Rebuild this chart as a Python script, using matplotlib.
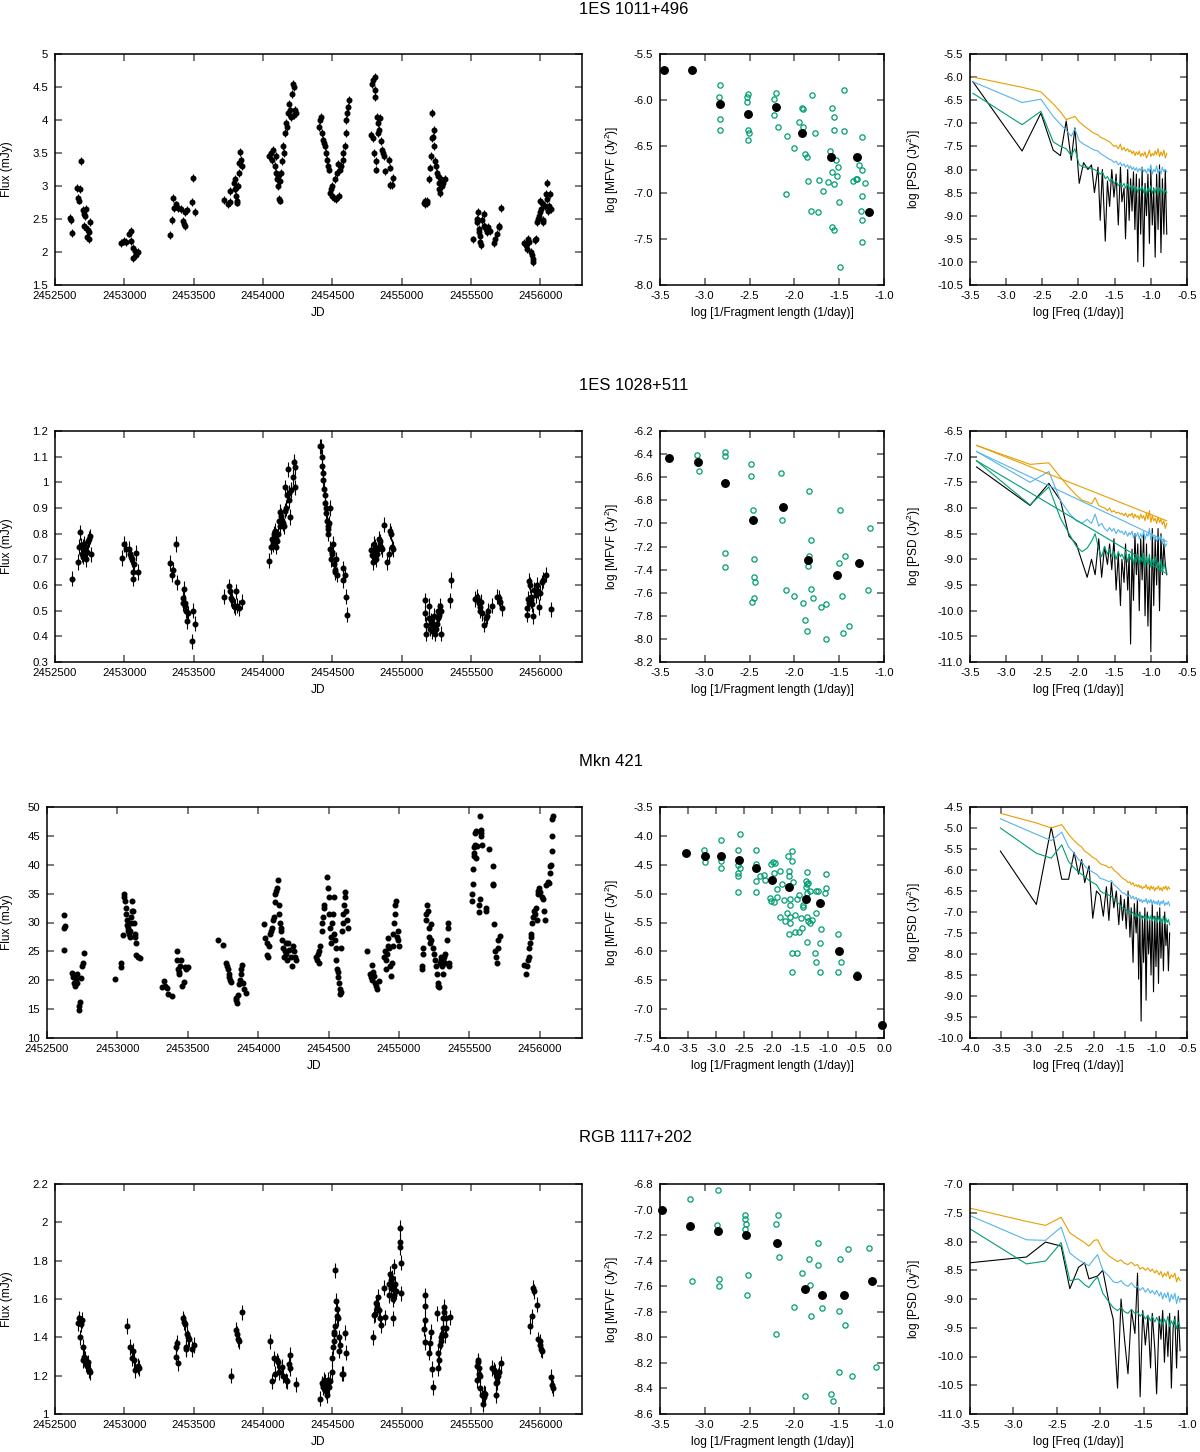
import numpy as np
import matplotlib
matplotlib.use('Agg')
import matplotlib.pyplot as plt
from matplotlib.ticker import FuncFormatter

plt.rcParams.update({
    'font.family': ['Liberation Sans', 'DejaVu Sans'],
    'font.size': 8,
    'mathtext.fontset': 'custom',
    'mathtext.rm': 'Liberation Sans',
    'mathtext.it': 'Liberation Sans:italic',
    'axes.linewidth': 1.1,
    'xtick.direction': 'in', 'ytick.direction': 'in',
    'xtick.top': True, 'ytick.right': True,
    'xtick.major.size': 5, 'ytick.major.size': 5,
    'xtick.major.width': 1.1, 'ytick.major.width': 1.1,
    'xtick.color': '#555555', 'ytick.color': '#555555',
    'xtick.labelcolor': 'black', 'ytick.labelcolor': 'black',
    'xtick.labelsize': 8.2, 'ytick.labelsize': 8.2,
    'xtick.major.pad': 4.5, 'ytick.major.pad': 5,
})

# ---------------- light curves (JD - 2450000, flux in mJy) ----------------
jd_1011 = [
    2610, 2615, 2625,
    2660, 2668, 2672, 2680, 2690, 2700, 2712, 2718, 2722, 2710, 2725, 2740, 2730, 2745, 2755, 2748,
    2975, 2995, 3010, 3030, 3045, 3050, 3060, 3065, 3075, 3085, 3095,
    3330, 3345, 3350, 3360, 3372, 3390, 3410, 3420, 3428, 3435, 3440, 3450, 3490, 3495, 3510,
    3715, 3750, 3760, 3765, 3790, 3795, 3800, 3805, 3810, 3815, 3820, 3825, 3830, 3835, 3840, 3845,
    4040, 4055, 4065, 4075, 4085, 4090, 4095, 4100, 4105, 4110, 4115, 4120, 4125, 4130, 4140,
    4145, 4150, 4160, 4165, 4170, 4180, 4190, 4195, 4200, 4210, 4215, 4220, 4225, 4230, 4240,
    4400, 4410, 4420, 4425, 4430, 4440, 4445, 4455, 4460, 4470, 4475, 4480, 4490, 4495, 4500, 4510,
    4520, 4525, 4535, 4540, 4550, 4555, 4565, 4575, 4580, 4590, 4595, 4600, 4605, 4612, 4620,
    4780, 4785, 4790, 4795, 4800, 4805, 4808, 4810, 4815, 4818, 4822, 4828, 4832, 4838, 4845,
    4850, 4855, 4862, 4870, 4878, 4905, 4912, 4918, 4930, 4935,
    5160, 5165, 5170, 5180, 5185, 5200, 5205, 5210, 5215, 5222, 5225, 5230, 5235, 5240, 5250,
    5255, 5262, 5268, 5272, 5278, 5285, 5292, 5300, 5310,
    5515, 5540, 5545, 5550, 5555, 5558, 5562, 5565, 5570, 5580, 5590, 5595, 5600, 5605, 5612,
    5620, 5635, 5665, 5675, 5690, 5700, 5705, 5715,
    5885, 5895, 5905, 5910, 5920, 5930, 5940, 5945, 5950, 5958, 5965, 5975, 5985, 5990, 5995,
    6000, 6005, 6012, 6018, 6022, 6030, 6038, 6045, 6050, 6058, 6065, 6072, 6080,
]
flux_1011 = [
    2.52, 2.48, 2.29,
    2.97, 2.82, 2.78, 2.95, 3.38, 2.63, 2.58, 2.55, 2.65, 2.40, 2.37, 2.33, 2.23, 2.20, 2.45, 2.30,
    2.13, 2.16, 2.15, 2.28, 2.32, 2.17, 2.06, 1.91, 2.02, 1.96, 2.00,
    2.26, 2.49, 2.82, 2.67, 2.72, 2.66, 2.65, 2.47, 2.43, 2.39, 2.60, 2.63, 2.76, 3.12, 2.60,
    2.79, 2.73, 2.92, 2.76, 3.05, 3.10, 2.95, 2.85, 2.78, 2.75, 3.00, 3.20, 3.35, 3.52, 3.40, 3.30,
    3.45, 3.50, 3.40, 3.55, 3.30, 3.45, 3.20, 3.10, 3.15, 3.00, 2.80, 2.78, 3.08, 3.20, 3.38,
    3.60, 3.50, 3.80, 3.95, 3.90, 4.10, 4.25, 4.15, 4.05, 4.40, 4.55, 4.50, 4.08, 4.15, 4.10,
    3.90, 4.00, 4.05, 3.80, 3.70, 3.65, 3.60, 3.50, 3.40, 3.30, 3.25, 2.90, 2.95, 3.00, 2.85, 2.82,
    3.10, 2.80, 3.20, 3.33, 2.85, 3.25, 3.30, 3.40, 3.50, 3.60, 3.80, 4.00, 4.10, 4.20, 4.30,
    3.77, 4.55, 3.72, 4.60, 3.50, 4.65, 4.45, 4.35, 3.38, 3.25, 4.05, 3.95, 3.80, 3.85, 4.03,
    3.68, 3.55, 3.50, 3.45, 3.22, 3.40, 3.28, 3.02, 3.02, 3.12,
    2.75, 2.72, 2.77, 2.78, 2.74, 3.10, 3.28, 3.45, 3.72, 4.10, 3.75, 3.85, 3.60, 3.38, 3.30,
    3.20, 3.15, 3.05, 2.95, 2.90, 3.10, 3.00, 3.05, 3.10,
    2.19, 2.50, 2.45, 2.60, 2.35, 2.30, 2.25, 2.15, 2.10, 2.48, 2.58, 2.40, 2.38, 2.35, 2.30,
    2.38, 2.32, 2.13, 2.20, 2.28, 2.40, 2.38, 2.66,
    2.13, 2.10, 2.05, 2.20, 2.15, 2.00, 1.95, 1.90, 1.85, 2.18, 2.20, 2.45, 2.50, 2.55, 2.78,
    2.60, 2.65, 2.75, 2.48, 2.45, 2.70, 2.88, 3.05, 2.80, 2.62, 2.70, 2.88, 2.65,
]
err_1011 = 0.06

jd_1028 = [
    2622, 2665, 2675, 2680, 2688, 2695, 2700, 2705, 2712, 2718, 2722, 2728, 2740, 2745, 2752, 2760,
    2980, 2995, 3015, 3030, 3040, 3048, 3055, 3060, 3065, 3070, 3085, 3100,
    3330, 3345, 3350, 3372, 3380, 3420, 3425, 3430, 3435, 3440, 3445, 3450, 3460, 3490, 3495, 3510,
    3715, 3755, 3762, 3770, 3778, 3790, 3800, 3805, 3815, 3825, 3845,
    4045, 4060, 4065, 4070, 4075, 4080, 4085, 4090, 4095, 4100, 4108, 4115, 4120, 4125, 4130, 4140,
    4145, 4150, 4155, 4160, 4165, 4172, 4178, 4185, 4190, 4195, 4205, 4215, 4222, 4228, 4232,
    4410, 4420, 4425, 4428, 4432, 4436, 4440, 4445, 4448, 4452, 4455, 4460, 4465, 4468, 4472, 4476,
    4480, 4485, 4490, 4495, 4500, 4505, 4512, 4518, 4522, 4528, 4535, 4575, 4580, 4590, 4600, 4605,
    4780, 4785, 4790, 4800, 4805, 4810, 4815, 4822, 4830, 4838, 4845, 4850, 4860, 4870, 4895, 4905,
    4912, 4925, 4932, 4938,
    5165, 5170, 5172, 5175, 5195, 5200, 5205, 5212, 5218, 5225, 5230, 5235, 5240, 5248, 5255, 5260,
    5265, 5270, 5275, 5280, 5285, 5350, 5355,
    5530, 5540, 5548, 5555, 5562, 5568, 5575, 5582, 5595, 5605, 5612, 5620, 5650, 5690, 5700, 5708,
    5720,
    5900, 5905, 5910, 5915, 5920, 5925, 5930, 5935, 5940, 5945, 5955, 5965, 5975, 5985, 5992, 6000,
    6010, 6020, 6040, 6080,
]
flux_1028 = [
    0.625, 0.69, 0.75, 0.805, 0.755, 0.72, 0.71, 0.75, 0.76, 0.74, 0.70, 0.73, 0.77, 0.78, 0.79, 0.72,
    0.705, 0.76, 0.74, 0.74, 0.72, 0.71, 0.70, 0.65, 0.625, 0.68, 0.725, 0.65,
    0.685, 0.64, 0.66, 0.76, 0.61, 0.53, 0.55, 0.585, 0.52, 0.53, 0.50, 0.46, 0.49, 0.38, 0.50, 0.45,
    0.555, 0.595, 0.575, 0.55, 0.54, 0.52, 0.515, 0.575, 0.52, 0.51, 0.535,
    0.695, 0.75, 0.78, 0.77, 0.76, 0.80, 0.81, 0.78, 0.75, 0.77, 0.80, 0.85, 0.83, 0.885, 0.87, 0.85,
    0.84, 0.83, 0.98, 0.89, 0.90, 0.95, 1.05, 0.96, 0.93, 0.865, 0.97, 1.02, 1.08, 1.06, 0.98,
    1.14, 1.14, 1.10, 1.065, 1.035, 1.01, 0.975, 0.95, 0.92, 0.90, 0.88, 0.85, 0.83, 0.82, 0.80, 0.84,
    0.90, 0.74, 0.70, 0.72, 0.73, 0.76, 0.68, 0.66, 0.65, 0.70, 0.64, 0.665, 0.62, 0.64, 0.555, 0.485,
    0.735, 0.715, 0.69, 0.76, 0.75, 0.73, 0.70, 0.72, 0.74, 0.78, 0.77, 0.75, 0.74, 0.835, 0.69, 0.72,
    0.81, 0.80, 0.75, 0.74,
    0.54, 0.49, 0.445, 0.41, 0.52, 0.47, 0.43, 0.46, 0.42, 0.45, 0.44, 0.48, 0.41, 0.43, 0.45, 0.47,
    0.50, 0.485, 0.52, 0.41, 0.50, 0.54, 0.62,
    0.545, 0.555, 0.54, 0.53, 0.515, 0.50, 0.535, 0.49, 0.445, 0.47, 0.48, 0.50, 0.52, 0.555, 0.55, 0.535,
    0.51,
    0.485, 0.51, 0.545, 0.53, 0.615, 0.60, 0.555, 0.54, 0.525, 0.48, 0.58, 0.56, 0.60, 0.575, 0.515, 0.57,
    0.61, 0.62, 0.64, 0.505,
]
err_1028 = 0.03

jd_421 = [
    2618, 2620, 2622, 2625, 2680, 2688, 2695, 2700, 2705, 2712, 2716, 2725, 2728, 2732, 2745, 2752, 2756, 2765,
    2980, 3025, 3028, 3040, 3048, 3050, 3052, 3058, 3062, 3066, 3070, 3074, 3078, 3082,
    3086, 3090, 3094, 3098, 3102, 3106, 3112, 3118, 3124, 3128, 3132, 3130, 3145, 3160,
    3320, 3330, 3340, 3350, 3360, 3385, 3420, 3425, 3430, 3435, 3440, 3445, 3455, 3460, 3470, 3480, 3490, 3500,
    3715, 3750, 3770, 3775, 3785, 3790, 3795, 3800, 3810, 3840, 3845, 3850, 3855, 3865, 3870, 3875,
    3880, 3885, 3890, 3900, 3910,
    4040, 4050, 4060, 4065, 4070, 4078, 4085, 4092, 4098, 4105, 4112, 4118, 4122, 4128, 4135, 4140, 4145, 4150,
    4155, 4160, 4165, 4170, 4175, 4180, 4188, 4195, 4200, 4208, 4215, 4222, 4230, 4240, 4248, 4255, 4262, 4270,
    4410, 4418, 4425, 4430, 4435, 4442, 4450, 4455, 4460, 4465, 4470, 4490, 4495, 4500, 4505, 4510, 4515, 4520,
    4525, 4530, 4535, 4540, 4545, 4550, 4555, 4560, 4565, 4570, 4575, 4578, 4582, 4585, 4590, 4595, 4600, 4605,
    4610, 4615, 4620, 4625, 4630, 4635,
    4775, 4795, 4800, 4805, 4810, 4815, 4820, 4830, 4838, 4845, 4860, 4895, 4900, 4905, 4910, 4915,
    4920, 4925, 4930, 4935, 4945, 4950, 4955, 4960, 4965, 4970, 4975, 4978, 4985, 4990, 4995, 5000,
    5160, 5162, 5168, 5172, 5190, 5195, 5200, 5205, 5210, 5215, 5220, 5225, 5228, 5240, 5250, 5258, 5265, 5270,
    5275, 5280, 5285, 5290, 5295, 5300, 5305, 5310, 5315, 5320, 5325, 5330, 5340, 5345, 5348, 5352, 5358,
    5520, 5522, 5524, 5527, 5530, 5533, 5536, 5540, 5543, 5546, 5550, 5555, 5565, 5568, 5572, 5578, 5580,
    5583, 5586, 5590, 5615, 5620, 5640, 5665, 5668, 5670, 5675, 5685, 5690, 5693, 5700, 5705, 5715,
    5890, 5900, 5910, 5915, 5920, 5925, 5930, 5935, 5940, 5948, 5955, 5962, 5968, 5975, 5980, 5985, 5990,
    5995, 6005, 6015, 6025, 6030, 6035, 6045, 6055, 6065, 6070, 6075, 6078, 6090, 6085, 6088, 6092,
]
flux_421 = [
    25.2, 31.3, 29.0, 29.4, 21.3, 20.5, 19.5, 19.0, 20.2, 19.5, 21.0, 14.8, 15.5, 16.2, 20.4, 22.5, 23.0, 24.8,
    20.2, 22.3, 23.0, 27.9, 35.0, 34.5, 33.8, 32.5, 31.5, 30.5, 29.5, 29.0, 28.5, 28.0,
    27.5, 28.5, 30.0, 31.0, 32.0, 33.7, 32.0, 30.0, 28.0, 27.5, 26.5, 24.3, 24.0, 23.9,
    18.9, 19.8, 19.0, 18.6, 17.7, 17.2, 25.0, 23.5, 22.0, 21.5, 21.0, 22.5, 23.5, 19.0, 19.7, 22.3, 22.0, 22.3,
    27.0, 26.1, 23.0, 22.5, 22.0, 21.0, 20.5, 20.0, 19.7, 17.0, 16.5, 16.0, 17.5, 19.3, 20.0, 21.0,
    22.0, 22.7, 19.5, 18.5, 17.8,
    29.7, 27.3, 26.5, 24.3, 24.0, 26.0, 28.0, 28.5, 29.0, 30.5, 31.0, 33.5, 35.0, 35.5, 36.0, 37.3, 33.0, 31.5,
    30.0, 28.5, 29.0, 27.0, 25.5, 24.0, 25.0, 26.5, 24.5, 23.5, 26.5, 25.3, 24.0, 22.5, 26.0, 25.0, 24.0, 23.5,
    24.0, 23.5, 24.5, 25.0, 23.0, 26.0, 28.5, 30.0, 31.0, 32.5, 33.0, 37.8, 36.0, 34.5, 31.5, 29.0, 27.5, 26.5,
    30.0, 31.5, 34.5, 28.0, 27.0, 25.5, 23.5, 22.0, 21.5, 20.5, 19.5, 18.5, 17.7, 18.0, 25.5, 28.5, 30.0, 31.5,
    33.0, 34.5, 35.3, 32.0, 30.5, 29.0,
    25.0, 21.0, 20.5, 20.0, 22.7, 21.5, 20.7, 19.5, 19.0, 18.5, 19.8, 24.0, 25.0, 23.5, 22.0, 24.5,
    26.0, 27.3, 25.5, 22.5, 20.7, 23.0, 26.0, 28.0, 30.0, 31.5, 33.0, 33.8, 27.5, 28.5, 27.0, 26.0,
    22.5, 22.0, 24.5, 25.5, 30.5, 31.5, 33.0, 32.0, 29.0, 27.5, 26.5, 27.0, 29.7, 25.5, 24.5, 23.5, 22.5, 21.0,
    19.5, 19.0, 18.8, 23.0, 24.0, 23.5, 22.5, 21.0, 23.5, 24.0, 23.0, 24.5, 27.0, 29.0, 30.0, 23.0, 22.5,
    33.7, 35.0, 36.6, 39.2, 41.5, 42.0, 43.0, 43.5, 45.5, 45.8, 41.2, 43.2, 33.0, 31.8, 34.0, 48.5, 45.5,
    45.0, 46.0, 43.5, 32.5, 32.0, 42.8, 39.7, 36.7, 36.5, 29.8, 25.0, 24.0, 23.0, 25.5, 27.0, 27.7,
    22.7, 21.0, 22.5, 23.5, 24.0, 25.5, 26.5, 27.5, 28.0, 30.0, 31.0, 32.0, 31.5, 32.5, 30.5, 35.0, 35.5,
    36.0, 35.2, 34.5, 34.0, 32.0, 30.5, 36.5, 37.0, 36.8, 38.5, 39.7, 40.0, 42.4, 45.0, 48.0, 48.5,
]
err_421 = 0.3

jd_1117 = [
    2665, 2672, 2680, 2690, 2695, 2700, 2705, 2710, 2715, 2720, 2730, 2738, 2745, 2755,
    3020, 3040, 3055, 3065, 3070, 3075, 3100, 3108,
    3370, 3375, 3378, 3385, 3420, 3430, 3440, 3445, 3448, 3452, 3458, 3465, 3490, 3502,
    3770, 3805, 3810, 3818, 3825, 3845,
    4050, 4065, 4080, 4088, 4100, 4110, 4115, 4135, 4145, 4165, 4170, 4185, 4192, 4198, 4235,
    4410, 4425, 4430, 4435, 4440, 4445, 4450, 4455, 4458, 4462, 4468, 4472, 4478, 4485, 4495, 4500, 4505,
    4510, 4512, 4515, 4518, 4520, 4525, 4530, 4535, 4540, 4545, 4550, 4555, 4570, 4580, 4590, 4595,
    4795, 4800, 4810, 4818, 4825, 4830, 4838, 4842, 4848, 4870, 4880, 4905, 4910, 4915, 4920,
    4925, 4930, 4935, 4938, 4940, 4945, 4948, 4952, 4958, 4985, 4988, 4990, 4995, 4992,
    5165, 5170, 5168, 5163, 5166, 5200, 5205, 5210, 5215, 5228, 5255, 5260, 5265,
    5270, 5275, 5280, 5285, 5290, 5295, 5300, 5305, 5308, 5312, 5318, 5322, 5345,
    5540, 5542, 5548, 5552, 5555, 5558, 5562, 5565, 5580, 5585, 5590,
    5595, 5600, 5650, 5665, 5672, 5678, 5682, 5688, 5695, 5700, 5715,
    5925, 5940, 5948, 5955, 5975, 5985, 5995, 6000, 6005, 6012, 6075, 6085, 6092,
]
flux_1117 = [
    1.475, 1.50, 1.40, 1.47, 1.49, 1.35, 1.28, 1.30, 1.29, 1.26, 1.25, 1.27, 1.23, 1.22,
    1.46, 1.35, 1.29, 1.33, 1.28, 1.23, 1.25, 1.24,
    1.30, 1.35, 1.37, 1.265, 1.50, 1.48, 1.47, 1.35, 1.34, 1.42, 1.40, 1.39, 1.34, 1.36,
    1.20, 1.44, 1.42, 1.39, 1.38, 1.53,
    1.38, 1.17, 1.29, 1.21, 1.28, 1.27, 1.22, 1.245, 1.20, 1.175, 1.17, 1.26, 1.24, 1.31, 1.155,
    1.08, 1.16, 1.15, 1.14, 1.18, 1.17, 1.13, 1.12, 1.10, 1.15, 1.18, 1.16, 1.14, 1.17, 1.22, 1.29, 1.35,
    1.43, 1.38, 1.42, 1.46, 1.75, 1.59, 1.51, 1.55, 1.50, 1.33, 1.40, 1.36, 1.21, 1.21, 1.425, 1.32,
    1.40, 1.515, 1.52, 1.58, 1.56, 1.61, 1.545, 1.50, 1.465, 1.66, 1.505, 1.62, 1.68, 1.73, 1.66,
    1.70, 1.71, 1.65, 1.60, 1.50, 1.62, 1.77, 1.68, 1.64, 1.87, 1.97, 1.90, 1.79, 1.63,
    1.62, 1.565, 1.49, 1.445, 1.375, 1.32, 1.37, 1.43, 1.235, 1.14, 1.525, 1.24, 1.32,
    1.28, 1.36, 1.38, 1.40, 1.42, 1.45, 1.50, 1.53, 1.56, 1.41, 1.50, 1.45, 1.505,
    1.25, 1.175, 1.27, 1.28, 1.24, 1.21, 1.20, 1.135, 1.10, 1.05, 1.09,
    1.11, 1.105, 1.24, 1.23, 1.22, 1.10, 1.16, 1.165, 1.20, 1.22, 1.265,
    1.46, 1.51, 1.66, 1.64, 1.57, 1.39, 1.38, 1.36, 1.34, 1.33, 1.195, 1.15, 1.135,
]
err_1117 = 0.04

# ---------------- MFVF (log 1/fragment length, log MFVF) ----------------
mf_bx_1011 = [-3.46, -3.14, -2.83, -2.52, -2.21, -1.91, -1.59, -1.30, -1.17]
mf_by_1011 = [-5.67, -5.67, -6.04, -6.15, -6.07, -6.35, -6.61, -6.62, -7.21]
mf_gx_1011 = [-2.83, -2.84, -2.83, -2.83, -2.52, -2.53, -2.53, -2.52, -2.51, -2.52, -2.21, -2.23, -2.23,
              -2.18, -2.08, -2.09, -2.00, -1.95, -1.92, -1.90, -1.90, -1.88, -1.86, -1.85, -1.82, -1.80,
              -1.77, -1.74, -1.72, -1.68, -1.62, -1.60, -1.58, -1.56, -1.56, -1.58, -1.56, -1.54, -1.53,
              -1.51, -1.58, -1.56, -1.50, -1.49, -1.45, -1.45, -1.35, -1.31, -1.30, -1.28, -1.26, -1.25,
              -1.24, -1.24, -1.24, -1.21, -1.24]
mf_gy_1011 = [-5.84, -5.96, -6.20, -6.32, -5.93, -5.96, -6.02, -6.32, -6.36, -6.43, -5.92, -5.99, -6.16,
              -6.29, -6.39, -7.01, -6.52, -6.24, -6.08, -6.10, -6.29, -6.58, -6.62, -6.87, -7.20, -5.94,
              -6.35, -7.21, -6.86, -6.98, -6.89, -6.55, -6.08, -6.18, -6.32, -6.78, -6.91, -6.65, -6.82,
              -6.72, -7.37, -7.40, -7.10, -7.81, -5.89, -6.33, -6.87, -6.85, -6.85, -6.70, -7.20, -7.30,
              -6.40, -6.76, -7.04, -6.90, -7.54]

mf_bx_1028 = [-3.40, -3.08, -2.77, -2.46, -2.13, -1.85, -1.53, -1.28]
mf_by_1028 = [-6.43, -6.47, -6.65, -6.97, -6.86, -7.32, -7.45, -7.34]
mf_gx_1028 = [-3.09, -3.07, -2.78, -2.77, -2.77, -2.77, -2.48, -2.48, -2.46, -2.45, -2.45, -2.44, -2.45,
              -2.47, -2.15, -2.14, -2.09, -2.00, -1.90, -1.88, -1.86, -1.84, -1.84, -1.85, -1.81, -1.81,
              -1.79, -1.70, -1.65, -1.65, -1.50, -1.49, -1.47, -1.44, -1.46, -1.39, -1.18, -1.16]
mf_gy_1028 = [-6.41, -6.55, -6.42, -6.38, -7.26, -7.38, -6.49, -6.59, -6.88, -7.31, -7.46, -7.51, -7.65,
              -7.68, -6.56, -6.97, -7.58, -7.63, -7.69, -7.84, -7.93, -6.72, -7.28, -7.37, -7.14, -7.57,
              -7.65, -7.72, -7.70, -8.00, -7.34, -6.88, -7.63, -7.28, -7.95, -7.89, -7.58, -7.04]

mf_bx_421 = [-3.53, -3.20, -2.91, -2.59, -2.28, -2.00, -1.69, -1.39, -1.14, -0.81, -0.48, -0.04]
mf_by_421 = [-4.30, -4.35, -4.34, -4.41, -4.55, -4.76, -4.88, -5.10, -5.16, -5.99, -6.42, -7.28]
mf_gx_421 = [-3.21, -3.20, -2.91, -2.91, -2.91, -2.58, -2.61, -2.60, -2.58, -2.61, -2.60, -2.61, -2.28,
             -2.28, -2.28, -2.29, -2.22, -2.14, -2.12, -2.02, -1.98, -1.95, -1.97, -1.91, -2.04, -2.01,
             -1.97, -1.91, -1.85, -1.83, -1.85, -1.78, -1.76, -1.74, -1.71, -1.70, -1.70, -1.68, -1.67,
             -1.68, -1.68, -1.69, -1.65, -1.64, -1.63, -1.59, -1.59, -1.65, -1.55, -1.65, -1.55, -1.52,
             -1.52, -1.48, -1.46, -1.45, -1.44, -1.38, -1.40, -1.39, -1.37, -1.35, -1.37, -1.33, -1.38,
             -1.35, -1.33, -1.29, -1.37, -1.24, -1.22, -1.21, -1.21, -1.17, -1.13, -1.14, -1.14, -1.03,
             -1.03, -1.06, -0.83, -0.77, -0.83, -0.48, -0.48]
mf_gy_421 = [-4.25, -4.46, -4.07, -4.44, -4.56, -3.96, -4.24, -4.51, -4.55, -4.65, -4.70, -4.97, -4.24,
             -4.49, -4.79, -4.98, -4.69, -4.68, -4.76, -4.49, -4.46, -4.47, -4.65, -4.92, -5.08, -5.13,
             -5.14, -5.05, -4.61, -4.84, -5.41, -5.11, -5.47, -5.33, -4.35, -4.60, -4.69, -5.10, -5.20,
             -5.41, -5.51, -5.70, -4.27, -4.43, -4.80, -5.37, -5.67, -6.03, -6.02, -6.35, -5.09, -5.03,
             -5.67, -5.43, -5.60, -5.20, -5.24, -4.62, -4.79, -4.88, -4.84, -4.81, -4.99, -4.96, -5.41,
             -5.47, -5.51, -5.45, -5.83, -6.02, -6.19, -5.33, -4.95, -4.95, -5.62, -5.85, -6.35, -4.66,
             -4.90, -4.99, -5.70, -6.18, -6.35, -6.40, -6.45]

mf_bx_1117 = [-3.48, -3.16, -2.85, -2.54, -2.19, -1.88, -1.69, -1.45, -1.13]
mf_by_1117 = [-7.00, -7.13, -7.17, -7.20, -7.26, -7.62, -7.67, -7.67, -7.56]
mf_gx_1117 = [-3.17, -3.14, -2.85, -2.86, -2.84, -2.84, -2.55, -2.55, -2.54, -2.55, -2.52, -2.53, -2.21,
              -2.18, -2.17, -2.21, -2.00, -1.92, -1.84, -1.83, -1.82, -1.88, -1.74, -1.74, -1.69, -1.59,
              -1.57, -1.50, -1.49, -1.50, -1.43, -1.40, -1.36, -1.17, -1.09]
mf_gy_1117 = [-6.92, -7.56, -6.85, -7.12, -7.54, -7.60, -7.04, -7.07, -7.11, -7.15, -7.51, -7.67, -7.11,
              -7.04, -7.37, -7.97, -7.76, -7.50, -7.39, -7.59, -7.83, -8.46, -7.26, -7.43, -7.77, -8.44,
              -8.50, -7.79, -7.39, -8.27, -7.90, -7.31, -8.30, -7.30, -8.23]

# ---------------- PSD (log freq, log PSD) ----------------
psd_f_1011 = [-3.46, -2.78, -2.52, -2.35, -2.25, -2.17, -2.10, -2.05, -1.99, -1.93, -1.87, -1.82, -1.78,
              -1.73, -1.70, -1.67, -1.63, -1.60, -1.57, -1.54, -1.51, -1.48, -1.45, -1.42, -1.40, -1.37,
              -1.35, -1.32, -1.30, -1.28, -1.26, -1.24, -1.22, -1.20, -1.18, -1.16, -1.14, -1.12, -1.10,
              -1.08, -1.06, -1.04, -1.02, -1.00, -0.98, -0.96, -0.94, -0.92, -0.90, -0.88, -0.86, -0.84,
              -0.82, -0.80, -0.78]
psd_k_1011 = [-6.10, -7.60, -6.78, -7.58, -7.70, -6.95, -7.80, -7.10, -8.30, -7.85, -8.00, -7.90, -8.50,
              -7.95, -9.10, -8.00, -9.55, -8.25, -8.80, -8.00, -8.60, -8.10, -9.20, -7.95, -8.70, -8.40,
              -9.50, -8.00, -9.10, -8.20, -8.90, -8.05, -9.30, -8.10, -10.00, -8.20, -9.40, -7.95, -10.10,
              -8.30, -9.00, -8.10, -9.60, -8.00, -9.20, -8.40, -9.90, -8.10, -9.30, -7.90, -9.80, -8.20,
              -9.40, -8.00, -9.40]
psd_o_1011 = [-6.00, -6.22, -6.32, -6.58, -6.75, -6.92, -6.88, -6.85, -6.97, -7.05, -7.12, -7.18, -7.22,
              -7.25, -7.30, -7.32, -7.35, -7.38, -7.40, -7.45, -7.50, -7.48, -7.55, -7.45, -7.58, -7.52,
              -7.60, -7.55, -7.62, -7.58, -7.66, -7.60, -7.70, -7.62, -7.68, -7.60, -7.72, -7.65, -7.70,
              -7.62, -7.75, -7.68, -7.58, -7.72, -7.65, -7.70, -7.60, -7.68, -7.55, -7.72, -7.62, -7.70,
              -7.58, -7.75, -7.65]
psd_b_1011 = [-6.10, -6.55, -6.48, -6.85, -7.02, -7.15, -7.28, -7.12, -7.38, -7.45, -7.50, -7.55, -7.58,
              -7.60, -7.65, -7.68, -7.72, -7.75, -7.78, -7.80, -7.85, -7.82, -7.90, -7.85, -7.92, -7.88,
              -7.95, -7.90, -7.98, -7.92, -8.00, -7.95, -8.02, -7.96, -8.05, -7.98, -8.02, -7.95, -8.05,
              -8.00, -8.08, -7.98, -8.05, -7.90, -8.10, -8.00, -8.05, -7.92, -8.08, -8.00, -8.10, -7.95,
              -8.05, -8.00, -8.05]
psd_g_1011 = [-6.35, -7.03, -6.74, -7.40, -7.50, -7.55, -7.70, -7.55, -7.90, -7.95, -7.95, -7.98, -8.00,
              -8.05, -8.10, -8.05, -8.20, -8.15, -8.25, -8.20, -8.30, -8.25, -8.35, -8.30, -8.38, -8.30,
              -8.40, -8.32, -8.42, -8.35, -8.45, -8.35, -8.48, -8.38, -8.50, -8.40, -8.45, -8.35, -8.50,
              -8.40, -8.55, -8.40, -8.48, -8.35, -8.52, -8.42, -8.50, -8.38, -8.55, -8.40, -8.50, -8.42,
              -8.55, -8.45, -8.50]

psd_f_1028 = [-3.41, -2.67, -2.41, -2.25, -2.13, -2.03, -1.95, -1.88, -1.82, -1.77, -1.72, -1.68, -1.64,
              -1.60, -1.57, -1.54, -1.51, -1.48, -1.45, -1.42, -1.40, -1.37, -1.35, -1.32, -1.30, -1.28,
              -1.26, -1.24, -1.22, -1.20, -1.18, -1.16, -1.14, -1.12, -1.10, -1.08, -1.06, -1.04, -1.02,
              -1.00, -0.98, -0.96, -0.94, -0.92, -0.90, -0.88, -0.86, -0.84, -0.82, -0.80, -0.78]
psd_k_1028 = [-7.20, -7.95, -7.52, -7.85, -8.55, -8.70, -9.05, -9.35, -9.00, -9.30, -8.60, -9.35, -8.75,
              -9.10, -8.70, -9.20, -8.60, -9.60, -8.90, -9.90, -9.00, -9.45, -8.70, -9.60, -8.90, -10.65,
              -8.80, -9.80, -8.50, -9.30, -8.70, -10.00, -8.60, -9.40, -8.50, -10.10, -8.70, -10.30, -9.00,
              -10.80, -8.40, -9.90, -8.60, -9.50, -8.40, -10.00, -8.50, -9.30, -8.70, -9.10, -9.30]
psd_o_1028 = [-6.78, -7.15, -7.12, -7.40, -7.60, -7.75, -7.85, -7.88, -7.92, -7.80, -7.95, -7.98, -8.00,
              -8.05, -8.00, -8.08, -8.05, -8.10, -8.08, -8.12, -8.10, -8.15, -8.10, -8.18, -8.12, -8.15,
              -8.10, -8.20, -8.12, -8.18, -8.15, -8.22, -8.12, -8.20, -8.15, -8.25, -8.10, -8.22, -8.05,
              -8.28, -8.15, -8.25, -8.20, -8.30, -8.18, -8.28, -8.22, -8.32, -8.25, -8.40, -8.30]
psd_b_1028 = [-6.90, -7.50, -7.29, -7.85, -8.10, -8.25, -8.30, -8.22, -8.30, -8.12, -8.35, -8.30, -8.40,
              -8.45, -8.38, -8.45, -8.40, -8.50, -8.42, -8.48, -8.45, -8.52, -8.45, -8.55, -8.48, -8.52,
              -8.45, -8.58, -8.50, -8.55, -8.48, -8.60, -8.50, -8.58, -8.45, -8.62, -8.50, -8.55, -8.40,
              -8.62, -8.50, -8.60, -8.55, -8.65, -8.58, -8.62, -8.55, -8.70, -8.60, -8.75, -8.70]
psd_g_1028 = [-7.08, -7.94, -7.59, -8.20, -8.50, -8.75, -8.85, -8.78, -8.65, -8.50, -8.80, -8.95, -8.75,
              -8.90, -8.80, -8.95, -8.85, -9.00, -8.85, -8.95, -8.90, -9.00, -8.85, -9.05, -8.90, -9.00,
              -8.90, -9.10, -8.95, -9.05, -8.90, -9.10, -8.95, -9.05, -8.88, -9.15, -8.95, -9.10, -8.90,
              -9.15, -9.00, -9.10, -8.95, -9.15, -9.05, -9.20, -9.00, -9.25, -9.05, -9.20, -9.25]
# straight power-law fits drawn in the 1ES 1028+511 panel
fit_f_1028 = [-3.41, -0.78]
fit_o_1028 = [-6.78, -8.25]
fit_b_1028 = [-6.90, -8.65]
fit_g_1028 = [-7.08, -9.28]

psd_f_421 = [-3.51, -2.93, -2.69, -2.52, -2.41, -2.32, -2.25, -2.20, -2.15, -2.08, -2.02, -1.96, -1.90,
             -1.85, -1.80, -1.76, -1.72, -1.68, -1.64, -1.60, -1.57, -1.54, -1.51, -1.48, -1.45, -1.42,
             -1.40, -1.37, -1.35, -1.32, -1.30, -1.28, -1.26, -1.24, -1.22, -1.20, -1.18, -1.16, -1.14,
             -1.12, -1.10, -1.08, -1.06, -1.04, -1.02, -1.00, -0.98, -0.96, -0.94, -0.92, -0.90, -0.88,
             -0.86, -0.84, -0.82, -0.80, -0.78]
psd_k_421 = [-5.55, -6.82, -4.98, -6.22, -6.22, -5.58, -6.10, -5.75, -6.30, -5.90, -7.15, -6.50, -6.60,
             -7.10, -6.40, -7.20, -6.30, -6.90, -6.50, -7.30, -6.60, -7.20, -6.70, -7.40, -6.50, -7.60,
             -6.90, -8.20, -6.80, -7.50, -6.70, -8.60, -7.00, -9.60, -7.10, -8.20, -6.90, -9.10, -7.00,
             -8.00, -7.20, -8.50, -6.80, -8.90, -7.10, -8.30, -7.00, -8.70, -6.90, -8.10, -7.20, -8.40,
             -7.00, -7.80, -7.30, -8.40, -7.50]
psd_o_421 = [-4.65, -4.88, -5.00, -4.92, -5.15, -5.30, -5.40, -5.45, -5.55, -5.62, -5.70, -5.75, -5.85,
             -5.88, -5.90, -5.95, -5.92, -6.00, -6.05, -6.10, -6.15, -6.20, -6.22, -6.25, -6.30, -6.28,
             -6.35, -6.30, -6.38, -6.35, -6.40, -6.35, -6.42, -6.38, -6.45, -6.40, -6.42, -6.35, -6.45,
             -6.40, -6.48, -6.38, -6.45, -6.40, -6.50, -6.42, -6.45, -6.38, -6.48, -6.42, -6.50, -6.40,
             -6.45, -6.38, -6.48, -6.40, -6.45]
psd_b_421 = [-4.78, -5.15, -5.30, -5.10, -5.45, -5.60, -5.75, -5.80, -5.90, -6.00, -6.05, -6.10, -6.20,
             -6.22, -6.25, -6.28, -6.25, -6.35, -6.40, -6.45, -6.50, -6.55, -6.55, -6.60, -6.62, -6.60,
             -6.68, -6.62, -6.70, -6.65, -6.72, -6.68, -6.75, -6.70, -6.78, -6.72, -6.75, -6.68, -6.80,
             -6.72, -6.78, -6.70, -6.82, -6.72, -6.80, -6.75, -6.82, -6.72, -6.85, -6.75, -6.80, -6.72,
             -6.85, -6.78, -6.82, -6.75, -6.85]
psd_g_421 = [-5.00, -5.60, -5.72, -5.40, -5.80, -5.95, -6.05, -6.10, -6.15, -6.25, -6.30, -6.35, -6.50,
             -6.55, -6.55, -6.60, -6.62, -6.70, -6.75, -6.80, -6.85, -6.90, -6.92, -6.95, -7.00, -6.98,
             -7.05, -7.00, -7.10, -7.02, -7.12, -7.05, -7.15, -7.08, -7.18, -7.10, -7.15, -7.05, -7.20,
             -7.10, -7.18, -7.08, -7.22, -7.10, -7.20, -7.12, -7.25, -7.10, -7.22, -7.15, -7.25, -7.10,
             -7.28, -7.15, -7.25, -7.18, -7.30]

psd_f_1117 = [-3.50, -2.85, -2.63, -2.45, -2.35, -2.25, -2.18, -2.13, -2.07, -2.03, -1.97, -1.90, -1.85,
              -1.80, -1.76, -1.72, -1.68, -1.64, -1.60, -1.57, -1.54, -1.51, -1.48, -1.45, -1.42, -1.40,
              -1.37, -1.35, -1.32, -1.30, -1.28, -1.26, -1.24, -1.22, -1.20, -1.18, -1.16, -1.14, -1.12,
              -1.10, -1.08]
psd_k_1117 = [-8.37, -8.27, -8.01, -8.08, -8.82, -8.45, -8.37, -8.65, -8.62, -8.60, -8.50, -9.05, -9.35,
              -10.55, -9.00, -9.70, -10.30, -9.20, -9.60, -8.55, -10.70, -9.20, -9.80, -9.30, -10.20,
              -9.25, -9.90, -10.65, -9.30, -9.70, -9.20, -10.10, -9.40, -10.00, -9.25, -10.55, -9.50,
              -9.30, -10.20, -9.20, -9.90]
psd_o_1117 = [-7.42, -7.65, -7.72, -7.58, -7.85, -7.95, -8.02, -8.08, -7.98, -7.97, -8.15, -8.25, -8.30,
              -8.35, -8.32, -8.38, -8.40, -8.36, -8.42, -8.40, -8.48, -8.45, -8.50, -8.46, -8.52, -8.48,
              -8.55, -8.50, -8.58, -8.52, -8.62, -8.55, -8.60, -8.52, -8.65, -8.58, -8.62, -8.55, -8.70,
              -8.62, -8.68]
psd_b_1117 = [-7.55, -7.97, -7.98, -7.75, -8.20, -8.32, -8.38, -8.42, -8.30, -8.23, -8.50, -8.60, -8.70,
              -8.72, -8.68, -8.75, -8.78, -8.72, -8.80, -8.78, -8.85, -8.80, -8.88, -8.82, -8.90, -8.85,
              -8.92, -8.85, -8.95, -8.88, -9.00, -8.90, -8.98, -8.88, -9.05, -8.92, -9.00, -8.90, -9.08,
              -8.95, -9.05]
psd_g_1117 = [-7.78, -8.39, -8.34, -8.02, -8.68, -8.65, -8.75, -8.80, -8.68, -8.62, -8.90, -9.05, -9.15,
              -9.20, -9.15, -9.22, -9.25, -9.18, -9.25, -9.22, -9.30, -9.25, -9.35, -9.28, -9.38, -9.30,
              -9.40, -9.32, -9.42, -9.35, -9.45, -9.35, -9.42, -9.30, -9.48, -9.38, -9.45, -9.35, -9.52,
              -9.40, -9.50]

names = ['1ES 1011+496', '1ES 1028+511', 'Mkn 421', 'RGB 1117+202']

ORANGE, SKY, GREEN = '#E69F00', '#56B4E9', '#009E73'
W, H = 1200, 1452

fig = plt.figure(figsize=(W / 100, H / 100), dpi=100)


def px_axes(left, top, right, bottom):
    return fig.add_axes([left / W, 1 - bottom / H, (right - left) / W, (bottom - top) / H])


def fmt_g(v, _):
    return f'{v + 0.0:g}'


def fmt_1(v, _):
    return f'{v + 0.0:.1f}'


def finish(ax, xticks, yticks, xfmt, yfmt, xlab, ylab, left_px, width_px, ylab_px, height_px):
    ax.set_xticks(xticks)
    ax.set_yticks(yticks)
    ax.xaxis.set_major_formatter(FuncFormatter(xfmt))
    ax.yaxis.set_major_formatter(FuncFormatter(yfmt))
    ax.set_xlabel(xlab, fontsize=8.6)
    ax.set_ylabel(ylab, fontsize=8.6)
    ax.yaxis.set_label_coords((ylab_px - left_px) / width_px, 0.5)
    ax.xaxis.set_label_coords(0.5, -22 / height_px)


rows = [
    dict(jd=jd_1011, flux=flux_1011, err=err_1011, ylim=(1.5, 5), yt=np.arange(1.5, 5.01, 0.5),
         bx=mf_bx_1011, by=mf_by_1011, gx=mf_gx_1011, gy=mf_gy_1011,
         mxlim=(-3.5, -1.0), mylim=(-8.0, -5.5), myt=np.arange(-8.0, -5.49, 0.5), mxt=np.arange(-3.5, -0.99, 0.5),
         pf=psd_f_1011, pk=psd_k_1011, po=psd_o_1011, pb=psd_b_1011, pg=psd_g_1011,
         pxlim=(-3.5, -0.5), pylim=(-10.5, -5.5), pxt=np.arange(-3.5, -0.49, 0.5), pyt=np.arange(-10.5, -5.49, 0.5)),
    dict(jd=jd_1028, flux=flux_1028, err=err_1028, ylim=(0.3, 1.2), yt=np.round(np.arange(0.3, 1.201, 0.1), 1),
         bx=mf_bx_1028, by=mf_by_1028, gx=mf_gx_1028, gy=mf_gy_1028,
         mxlim=(-3.5, -1.0), mylim=(-8.2, -6.2), myt=np.round(np.arange(-8.2, -6.19, 0.2), 1), mxt=np.arange(-3.5, -0.99, 0.5),
         pf=psd_f_1028, pk=psd_k_1028, po=psd_o_1028, pb=psd_b_1028, pg=psd_g_1028,
         pxlim=(-3.5, -0.5), pylim=(-11.0, -6.5), pxt=np.arange(-3.5, -0.49, 0.5), pyt=np.arange(-11.0, -6.49, 0.5)),
    dict(jd=jd_421, flux=flux_421, err=err_421, ylim=(10, 50), yt=np.arange(10, 51, 5),
         bx=mf_bx_421, by=mf_by_421, gx=mf_gx_421, gy=mf_gy_421,
         mxlim=(-4.0, 0.0), mylim=(-7.5, -3.5), myt=np.arange(-7.5, -3.49, 0.5), mxt=np.arange(-4.0, 0.01, 0.5),
         pf=psd_f_421, pk=psd_k_421, po=psd_o_421, pb=psd_b_421, pg=psd_g_421,
         pxlim=(-4.0, -0.5), pylim=(-10.0, -4.5), pxt=np.arange(-4.0, -0.49, 0.5), pyt=np.arange(-10.0, -4.49, 0.5)),
    dict(jd=jd_1117, flux=flux_1117, err=err_1117, ylim=(1.0, 2.2), yt=np.round(np.arange(1.0, 2.201, 0.2), 1),
         bx=mf_bx_1117, by=mf_by_1117, gx=mf_gx_1117, gy=mf_gy_1117,
         mxlim=(-3.5, -1.0), mylim=(-8.6, -6.8), myt=np.round(np.arange(-8.6, -6.79, 0.2), 1), mxt=np.arange(-3.5, -0.99, 0.5),
         pf=psd_f_1117, pk=psd_k_1117, po=psd_o_1117, pb=psd_b_1117, pg=psd_g_1117,
         pxlim=(-3.5, -1.0), pylim=(-11.0, -7.0), pxt=np.arange(-3.5, -0.99, 0.5), pyt=np.arange(-11.0, -6.99, 0.5)),
]

tops = [54, 431, 807, 1184]
bottoms = [285, 662, 1038, 1414]
title_y = [10, 385, 762, 1138]
lc_left = [55, 55, 47, 55]

for i, r in enumerate(rows):
    top, bot = tops[i], bottoms[i]
    hpx = bot - top
    fig.text(579 / W, 1 - title_y[i] / H, names[i], ha='left', va='center', fontsize=12)

    # light curve
    ax = px_axes(lc_left[i], top, 582, bot)
    jd = np.array(r['jd']) + 2450000
    ax.errorbar(jd, r['flux'], yerr=r['err'], fmt='o', ms=3.3, color='black',
                ecolor='black', elinewidth=0.8, capsize=0)
    ax.set_xlim(2452500, 2456300)
    ax.set_ylim(*r['ylim'])
    finish(ax, np.arange(2452500, 2456001, 500), r['yt'], lambda v, _: f'{int(round(v))}', fmt_g,
           'JD', 'Flux (mJy)', lc_left[i], 582 - lc_left[i], 13, hpx)

    # MFVF
    ax = px_axes(660, top, 884, bot)
    ax.plot(r['gx'], r['gy'], 'o', ms=3.8, mfc='none', mec=GREEN, mew=0.9, clip_on=False)
    ax.plot(r['bx'], r['by'], 'o', ms=5.4, color='black', clip_on=False)
    ax.set_xlim(*r['mxlim'])
    ax.set_ylim(*r['mylim'])
    finish(ax, r['mxt'], r['myt'], fmt_1, fmt_1,
           'log [1/Fragment length (1/day)]', r'log [MFVF (Jy$^2$)]', 660, 224, 621, hpx)

    # PSD
    ax = px_axes(970, top, 1187, bot)
    ax.plot(r['pf'], r['pk'], color='black', lw=0.8)
    ax.plot(r['pf'], r['pg'], color=GREEN, lw=0.8)
    ax.plot(r['pf'], r['pb'], color=SKY, lw=0.8)
    ax.plot(r['pf'], r['po'], color=ORANGE, lw=0.8)
    if i == 1:
        ax.plot(fit_f_1028, fit_g_1028, color=GREEN, lw=0.8)
        ax.plot(fit_f_1028, fit_b_1028, color=SKY, lw=0.8)
        ax.plot(fit_f_1028, fit_o_1028, color=ORANGE, lw=0.8)
    ax.set_xlim(*r['pxlim'])
    ax.set_ylim(*r['pylim'])
    finish(ax, r['pxt'], r['pyt'], fmt_1, fmt_1,
           'log [Freq (1/day)]', r'log [PSD (Jy$^2$)]', 970, 217, 923, hpx)

fig.savefig('out.png', dpi=100)
